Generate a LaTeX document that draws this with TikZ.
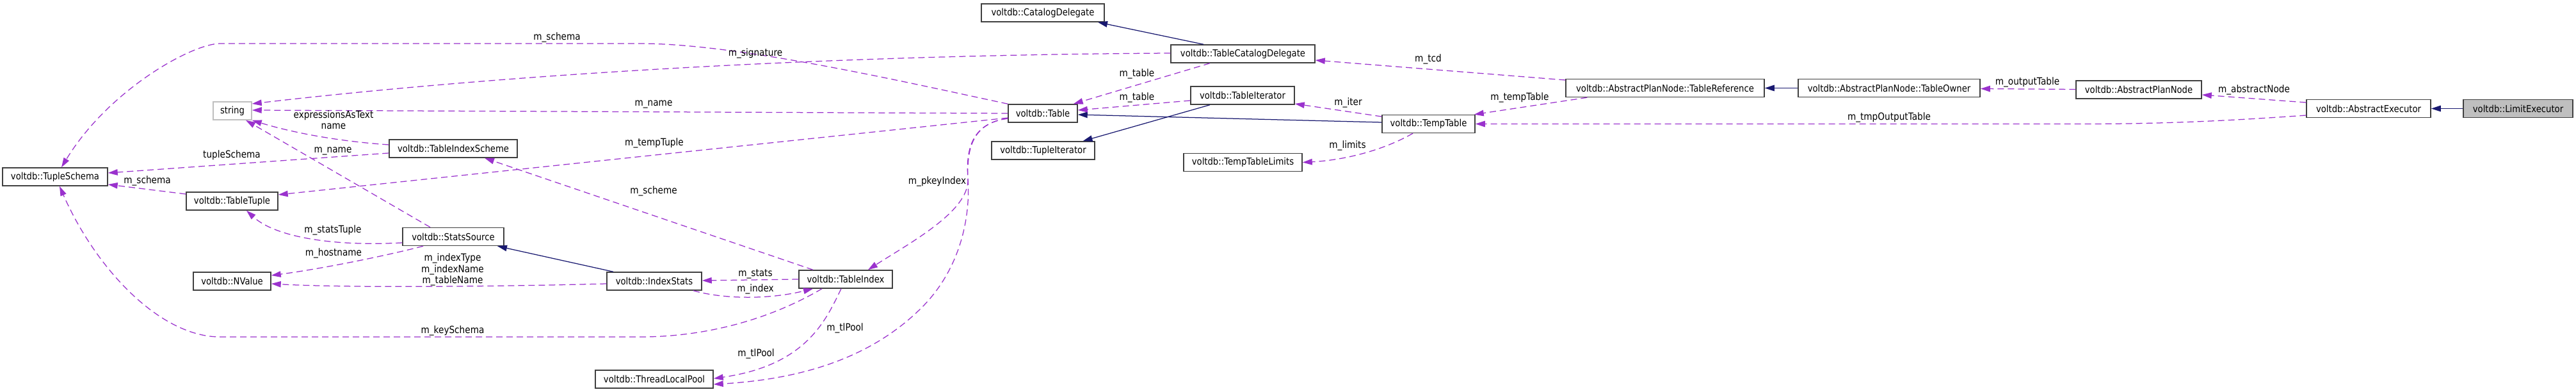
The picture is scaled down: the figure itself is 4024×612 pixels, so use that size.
\documentclass[tikz,border=0pt]{standalone}
\usepackage{fontspec}
\setmainfont{DejaVu Sans}[FakeStretch=0.88]
\usetikzlibrary{arrows.meta}
\definecolor{relc}{HTML}{9A32CD}
\definecolor{inhc}{HTML}{191970}
\definecolor{boxc}{HTML}{404040}
\definecolor{grayfill}{HTML}{BFBFBF}
\tikzset{
 cls/.style={draw=boxc, line width=1.5pt, minimum height=28pt, inner sep=0pt, font=\fontsize{15}{17}\selectfont, anchor=center},
 rel/.style={draw=relc, line width=1.25pt, dash pattern=on 10pt off 6pt, -{Triangle[length=15pt,width=9.5pt]}},
 inh/.style={draw=inhc, line width=1.25pt, -{Triangle[length=15pt,width=9.5pt]}},
 lbl/.style={font=\fontsize{15.5}{17.5}\selectfont, inner sep=0pt, align=center},
}
\begin{document}
\begin{tikzpicture}[x=1pt,y=-1pt]
\useasboundingbox (0,0) rectangle (4024,612);
% classes
\node[cls, minimum width=164pt] (tschema) at (86,276) {voltdb::TupleSchema};
\node[cls, draw=grayfill, minimum width=60pt] (str) at (363,173) {string};
\node[cls, minimum width=143pt] (ttuple) at (362.5,314) {voltdb::TableTuple};
\node[cls, minimum width=121pt] (nvalue) at (362.5,439) {voltdb::NValue};
\node[cls, minimum width=200pt] (tischeme) at (708,232) {voltdb::TableIndexScheme};
\node[cls, minimum width=158pt] (ssource) at (708,369.5) {voltdb::StatsSource};
\node[cls, minimum width=148pt] (istats) at (1022,439) {voltdb::IndexStats};
\node[cls, minimum width=146pt] (tindex) at (1321,436) {voltdb::TableIndex};
\node[cls, minimum width=184pt] (tlpool) at (1022,592) {voltdb::ThreadLocalPool};
\node[cls, minimum width=192pt] (catdel) at (1629,20) {voltdb::CatalogDelegate};
\node[cls, minimum width=225pt] (tcd) at (1941.5,84) {voltdb::TableCatalogDelegate};
\node[cls, minimum width=108pt] (table) at (1629,177) {voltdb::Table};
\node[cls, minimum width=161pt] (tupit) at (1629.5,235) {voltdb::TupleIterator};
\node[cls, minimum width=162pt] (tabit) at (1941,149) {voltdb::TableIterator};
\node[cls, minimum width=185pt] (ttlimits) at (1941.5,253.5) {voltdb::TempTableLimits};
\node[cls, minimum width=145pt] (temptable) at (2231.5,193.5) {voltdb::TempTable};
\node[cls, minimum width=310pt] (tref) at (2601,137.5) {voltdb::AbstractPlanNode::TableReference};
\node[cls, minimum width=284pt] (towner) at (2951,137.5) {voltdb::AbstractPlanNode::TableOwner};
\node[cls, minimum width=196pt] (apn) at (3341,140) {voltdb::AbstractPlanNode};
\node[cls, minimum width=194pt] (aexec) at (3700,169.5) {voltdb::AbstractExecutor};
\node[cls, fill=grayfill, minimum width=171pt] (limexec) at (3933.5,169.5) {voltdb::LimitExecutor};
% connectors
\draw[inh] (limexec.west) -- (aexec.east);
\draw[rel] ([yshift=9.5pt]aexec.west) -- ([yshift=-8pt]apn.east);
\draw[rel] ([yshift=-10.5pt]aexec.west) .. controls (3450,191) and (3350,193.5) .. (3250,193.5) -- (temptable.east);
\draw[rel] ([yshift=0.5pt]apn.west) -- ([yshift=-1pt]towner.east);
\draw[inh] (towner.west) -- (tref.east);
\draw[rel] ([yshift=12.5pt]tref.west) -- ([yshift=-10pt]tcd.east);
\draw[rel] ([xshift=34pt]tref.south west) -- ([xshift=-2pt]temptable.north east);
\draw[rel] ([yshift=11.5pt]temptable.west) -- ([yshift=-13pt]tabit.east);
\draw[rel] ([xshift=-24.5pt]temptable.south) .. controls (2160,235) and (2100,250) .. (ttlimits.east);
\draw[inh] ([yshift=2.5pt]temptable.west) -- ([yshift=-2pt]table.east);
\draw[inh] ([xshift=-51pt]tabit.south) -- ([xshift=62pt]tupit.north);
\draw[rel] ([yshift=-8pt]tabit.west) -- ([yshift=5pt]table.east);
\draw[rel] ([xshift=-51.5pt]tcd.south) -- ([xshift=-7pt]table.north east);
\draw[inh] ([xshift=-61.5pt]tcd.north) -- ([xshift=86pt]catdel.south);
\draw[rel] ([yshift=1pt]tcd.west) .. controls (1300,86) and (800,115) .. ([yshift=11pt]str.east);
\draw[rel] (table.north west) .. controls (1400,125) and (1150,68) .. (1000,68) -- (344,68) .. controls (300,68) and (170,140) .. ([xshift=10pt]tschema.north);
\draw[rel] (table.west) -- ([yshift=1pt]str.east);
\draw[rel] ([yshift=-7pt]table.west) -- ([yshift=10pt]ttuple.east);
\draw[rel] ([yshift=-8pt]table.west) .. controls (1520,192) and (1510,230) .. (1512,280) .. controls (1514,330) and (1420,380) .. ([xshift=35pt]tindex.north);
\draw[rel] ([yshift=-8pt]table.west) .. controls (1520,192) and (1508,230) .. (1512,280) .. controls (1516,340) and (1500,420) .. (1440,480) .. controls (1360,560) and (1250,592) .. ([yshift=-8pt]tlpool.east);
\draw[rel] ([xshift=-7pt]tindex.south) .. controls (1290,500) and (1260,570) .. ([yshift=1pt]tlpool.east);
\draw[rel] (tindex.west) -- ([yshift=1pt]istats.east);
\draw[rel] ([xshift=61pt]istats.south) .. controls (1130,467) and (1200,468) .. ([xshift=-51pt]tindex.south);
\draw[rel] ([xshift=-51pt]tindex.north) -- ([xshift=49pt]tischeme.south);
\draw[rel] ([xshift=-37pt]tindex.south) .. controls (1200,500) and (1100,526) .. (1000,526) -- (344,526) .. controls (250,526) and (150,420) .. ([xshift=7pt]tschema.south);
\draw[inh] ([xshift=-64pt]istats.north) -- ([xshift=69pt]ssource.south);
\draw[rel] ([yshift=-4pt]istats.west) .. controls (800,447) and (550,450) .. ([yshift=-4pt]nvalue.east);
\draw[rel] ([xshift=-47pt]ssource.south) .. controls (600,400) and (500,420) .. ([yshift=9pt]nvalue.east);
\draw[rel] ([yshift=-9.5pt]ssource.west) .. controls (520,385) and (430,370) .. ([xshift=22.5pt]ttuple.south);
\draw[rel] ([xshift=-36pt]ssource.north) -- ([xshift=21pt]str.south);
\draw[rel] ([yshift=6pt]tischeme.west) .. controls (520,220) and (450,205) .. (str.south east);
\draw[rel] ([yshift=-7pt]tischeme.west) -- ([yshift=6pt]tschema.east);
\draw[rel] ([yshift=11pt]ttuple.west) -- ([yshift=-12pt]tschema.east);
% labels
\node[lbl] (l1) at (3521,140) {m\_abstractNode};
\node[lbl] (l2) at (2951,183) {m\_tmpOutputTable};
\node[lbl] (l3) at (3167,128) {m\_outputTable};
\node[lbl] (l4) at (2231,92) {m\_tcd};
\node[lbl] (l5) at (2374,152) {m\_tempTable};
\node[lbl] (l6) at (2106,160) {m\_iter};
\node[lbl] (l7) at (2105,227) {m\_limits};
\node[lbl] (l8) at (1776,152) {m\_table};
\node[lbl] (l9) at (1776,115) {m\_table};
\node[lbl] (l10) at (1180,83) {m\_signature};
\node[lbl] (l11) at (870,58) {m\_schema};
\node[lbl] (l12) at (1021,163) {m\_name};
\node[lbl] (l13) at (1022,223) {m\_tempTuple};
\node[lbl] (l14) at (1464,283) {m\_pkeyIndex};
\node[lbl] (l15) at (1320,512) {m\_tlPool};
\node[lbl] (l16) at (1181,552) {m\_tlPool};
\node[lbl] (l17) at (1180,428) {m\_stats};
\node[lbl] (l18) at (1180,451) {m\_index};
\node[lbl] (l19) at (1021,298) {m\_scheme};
\node[lbl] (l20) at (707,516) {m\_keySchema};
\node[lbl] (l21) at (707,421) {m\_indexType\\m\_indexName\\m\_tableName};
\node[lbl] (l22) at (521,395) {m\_hostname};
\node[lbl] (l23) at (520,359) {m\_statsTuple};
\node[lbl] (l24) at (520,236) {m\_name};
\node[lbl] (l25) at (521,187) {expressionsAsText\\name};
\node[lbl] (l26) at (362,242) {tupleSchema};
\node[lbl] (l27) at (230,282) {m\_schema};
\end{tikzpicture}
\end{document}
